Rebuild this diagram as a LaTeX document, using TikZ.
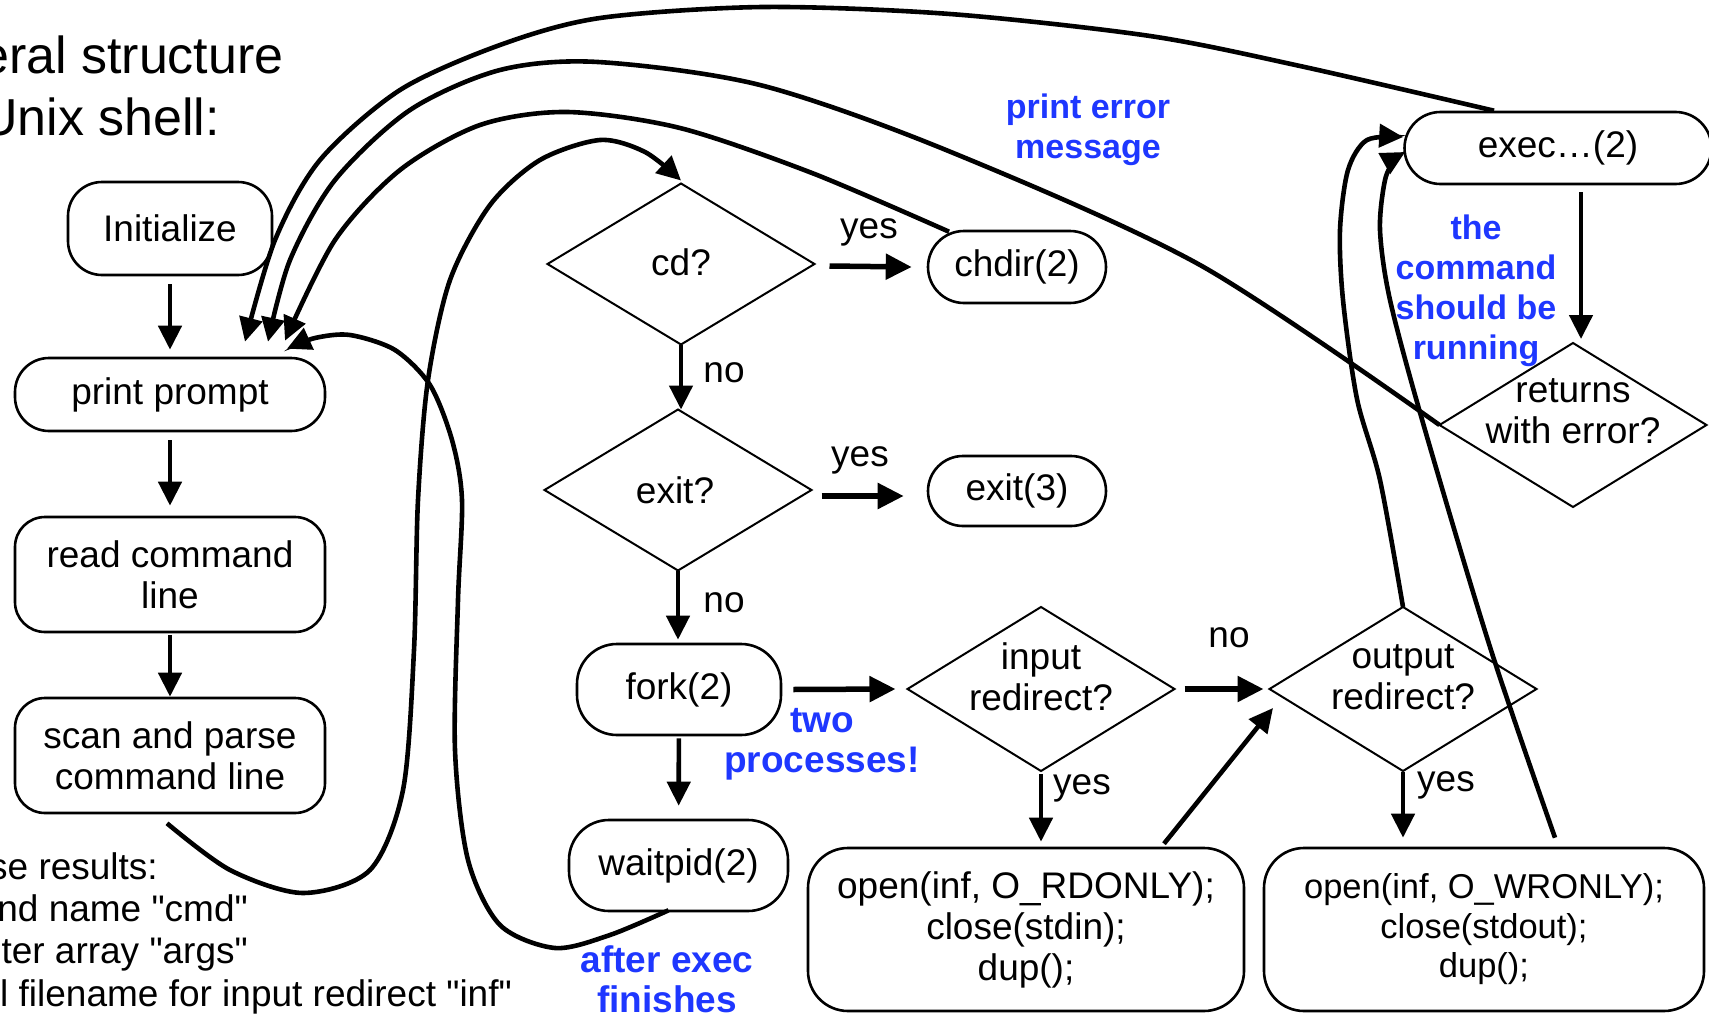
\documentclass[tikz,border=0pt]{standalone}
\usepackage{fontspec}
\setmainfont{Liberation Sans}
\newfontfamily\plainsans{Liberation Sans}
\usetikzlibrary{arrows.meta,shapes.geometric}
\definecolor{noteblue}{RGB}{30,55,255}
\newcommand\nfs{\fontsize{37}{41}\selectfont}
\newcommand\sfs{\fontsize{34.5}{39.5}\selectfont}
\newcommand\tfs{\fontsize{52}{62}\selectfont}
\newcommand\bfs{\fontsize{34}{40}\selectfont\bfseries}
\newcommand\bbfs{\fontsize{37}{40}\selectfont\bfseries}
\begin{document}
\begin{tikzpicture}[x=1pt,y=-1pt,
  rbox/.style={draw, line width=2.6pt, rounded corners=#1, inner sep=0pt, align=center, font=\nfs},
  dia/.style={draw, shape=diamond, line width=2pt, inner sep=0pt, outer sep=0pt},
  lbl/.style={inner sep=0pt, align=center, font=\nfs},
  plain/.style={inner sep=0pt, font=\plainsans\nfs},
  note/.style={inner sep=0pt, align=center, font=\bfs, text=noteblue},
  arr/.style={line width=4.6pt, -{Triangle[length=24pt,width=23pt]}},
  harr/.style={line width=5.5pt, -{Triangle[length=26pt,width=25pt]}},
  curve/.style={line width=4.6pt, -{Triangle[length=24pt,width=23pt]}}]
\useasboundingbox (0,0) rectangle (1709,1017);

% title
\node[lbl, font=\tfs, anchor=base west] (t1) at (-20,73) {eral structure};
\node[lbl, font=\tfs, anchor=base west] (t2) at (-20,135) {Unix shell:};

% left column
\node[rbox=34pt, minimum width=204pt, minimum height=93pt] (init) at (170,228.5) {Initialize};
\node[rbox=34pt, minimum width=310pt, minimum height=73pt] (prompt) at (170,394.5) {print prompt};
\node[rbox=30pt, minimum width=310pt, minimum height=115pt] (read) at (170,574.5) {read command\\line};
\node[rbox=30pt, minimum width=310pt, minimum height=115pt] (scan) at (170,755.5) {scan and parse\\command line};

% parse results
\node[plain, anchor=base east] (p1) at (158,879) {se results:};
\node[plain, anchor=base east] (p2) at (248,921) {nd name "cmd"};
\node[plain, anchor=base east] (p3) at (248,963) {ter array "args"};
\node[plain, anchor=base east] (p4) at (512,1006) {l filename for input redirect "inf"};

% middle column
\node[dia, minimum width=267pt, minimum height=161pt] (cd) at (681,264) {};
\node[lbl] (cdt) at (681,262) {cd?};
\node[rbox=36pt, minimum width=178pt, minimum height=72pt] (chdir) at (1017,267) {chdir(2)};
\node[dia, minimum width=267pt, minimum height=161pt] (exit) at (678,490) {};
\node[lbl] (exitt) at (675,490) {exit?};
\node[rbox=35pt, minimum width=178pt, minimum height=70pt] (exit3) at (1017,491) {exit(3)};
\node[rbox=40pt, minimum width=204pt, minimum height=91pt] (fork) at (679,689.5) {fork(2)};
\node[rbox=40pt, minimum width=219pt, minimum height=91pt] (wait) at (678.5,865.5) {waitpid(2)};

\node[dia, minimum width=267pt, minimum height=164pt] (inp) at (1041,689) {};
\node[lbl] (inpt) at (1041,677) {input\\redirect?};
\node[dia, minimum width=267pt, minimum height=164pt] (outp) at (1403,689) {};
\node[lbl] (outpt) at (1403,677) {output\\redirect?};
\node[rbox=40pt, minimum width=436pt, minimum height=163pt] (rd) at (1026,929.5) {open(inf, O\_RDONLY);\\close(stdin);\\dup();};
\node[rbox=40pt, minimum width=440pt, minimum height=163pt, font=\sfs] (wr) at (1484,929.5) {open(inf, O\_WRONLY);\\close(stdout);\\dup();};

% right top
\node[rbox=36pt, minimum width=307pt, minimum height=72pt] (exec) at (1558,148) {exec…(2)};
\node[dia, minimum width=267pt, minimum height=164pt] (ret) at (1573,425) {};
\node[lbl] (rett) at (1573,411) {returns\\with error?};

% notes
\node[note] (n1) at (1088,130) {print error\\message};
\node[note] (n2) at (1476,291) {the\\command\\should be\\running};
\node[note, font=\bbfs] (n3) at (822,744) {two\\processes!};
\node[note, font=\bbfs] (n4) at (667,979) {after exec\\finishes};

% yes / no labels
\node[lbl] (l1) at (869,232) {yes};
\node[lbl] (l2) at (724,373) {no};
\node[lbl] (l3) at (860,460) {yes};
\node[lbl] (l4) at (724,603) {no};
\node[lbl] (l5) at (1229,638) {no};
\node[lbl] (l6) at (1082,788) {yes};
\node[lbl] (l7) at (1446,785) {yes};

% straight arrows
\draw[arr, shorten <=8pt, shorten >=7pt] (init) -- (prompt);
\draw[arr, shorten <=8pt, shorten >=10pt] (prompt) -- (read);
\draw[arr, shorten <=2pt] (read) -- (scan);
\draw[harr] ([xshift=15pt,yshift=-2pt]cd.east) -- ([xshift=-15pt]chdir.west);
\draw[arr] (cd.south) -- (cd.south |- exit.north);
\draw[harr] ([xshift=10pt,yshift=-6pt]exit.east) -- ([xshift=-23pt,yshift=-5pt]exit3.west);
\draw[arr, shorten >=3pt] (exit.south) -- (exit.south |- fork.north);
\draw[arr, shorten <=2pt, shorten >=13pt] (fork) -- (wait);
\draw[harr] ([xshift=11pt]fork.east) -- ([xshift=-12pt]inp.west);
\draw[harr] ([xshift=10pt]inp.east) -- ([xshift=-6pt]outp.west);
\draw[arr] ([yshift=-3pt]inp.south) -- ([yshift=5pt]inp.south |- rd.north);
\draw[arr] ([xshift=138pt,yshift=3pt]rd.north) -- ([xshift=-130pt,yshift=-19pt]outp.center);
\draw[arr] ([yshift=-1pt]outp.south) -- ([yshift=9pt]outp.south |- wr.north);
\draw[arr] ([xshift=23pt,yshift=-7pt]exec.south) -- ([xshift=23pt,yshift=4pt]exec.south |- ret.north);

% curved connectors
\draw[curve] plot[smooth] coordinates {([xshift=-64pt]exec.north) (1300,66) (1150,36) (950,14) (763,7) (600,18) (500,45) (400,90) (320,160) (275,240) ([xshift=75pt,yshift=15pt]prompt.north)};
\draw[curve] plot[smooth] coordinates {(ret.west) (1200,265) (946,150) (760,85) (598,62) (500,70) (410,110) (335,180) (290,260) ([xshift=98pt,yshift=15pt]prompt.north)};
\draw[curve] plot[smooth] coordinates {([xshift=-68pt,yshift=-2pt]chdir.north) (812,173) (680,128) (567,112) (480,125) (400,170) (335,240) ([xshift=115pt,yshift=16pt]prompt.north)};
\draw[curve] plot[smooth] coordinates {([xshift=-3pt,yshift=-9pt]scan.south) (230,870) (303,893) (370,870) (403,790) (414,650) (418,500) (428,380) (450,280) (490,205) (540,160) (600,140) (645,152) ([yshift=3pt]cd.north)};
\draw[curve] plot[smooth] coordinates {([xshift=-10pt,yshift=2pt]wait.south) (610,935) (555,948) (500,925) (468,860) (455,750) (458,600) (462,500) (452,440) (430,385) (395,350) (350,335) (315,338) ([xshift=117pt,yshift=8pt]prompt.north)};
\draw[curve] plot[smooth] coordinates {(outp.north) (1380,480) (1357,399) (1343,300) (1340,230) (1348,170) (1367,140) ([yshift=11pt]exec.west)};
\draw[curve] plot[smooth] coordinates {([xshift=71pt,yshift=9pt]wr.north) (1490,647) (1423,423) (1390,300) (1380,230) (1385,180) (1395,160) ([xshift=2pt,yshift=-4pt]exec.west)};
\end{tikzpicture}
\end{document}
